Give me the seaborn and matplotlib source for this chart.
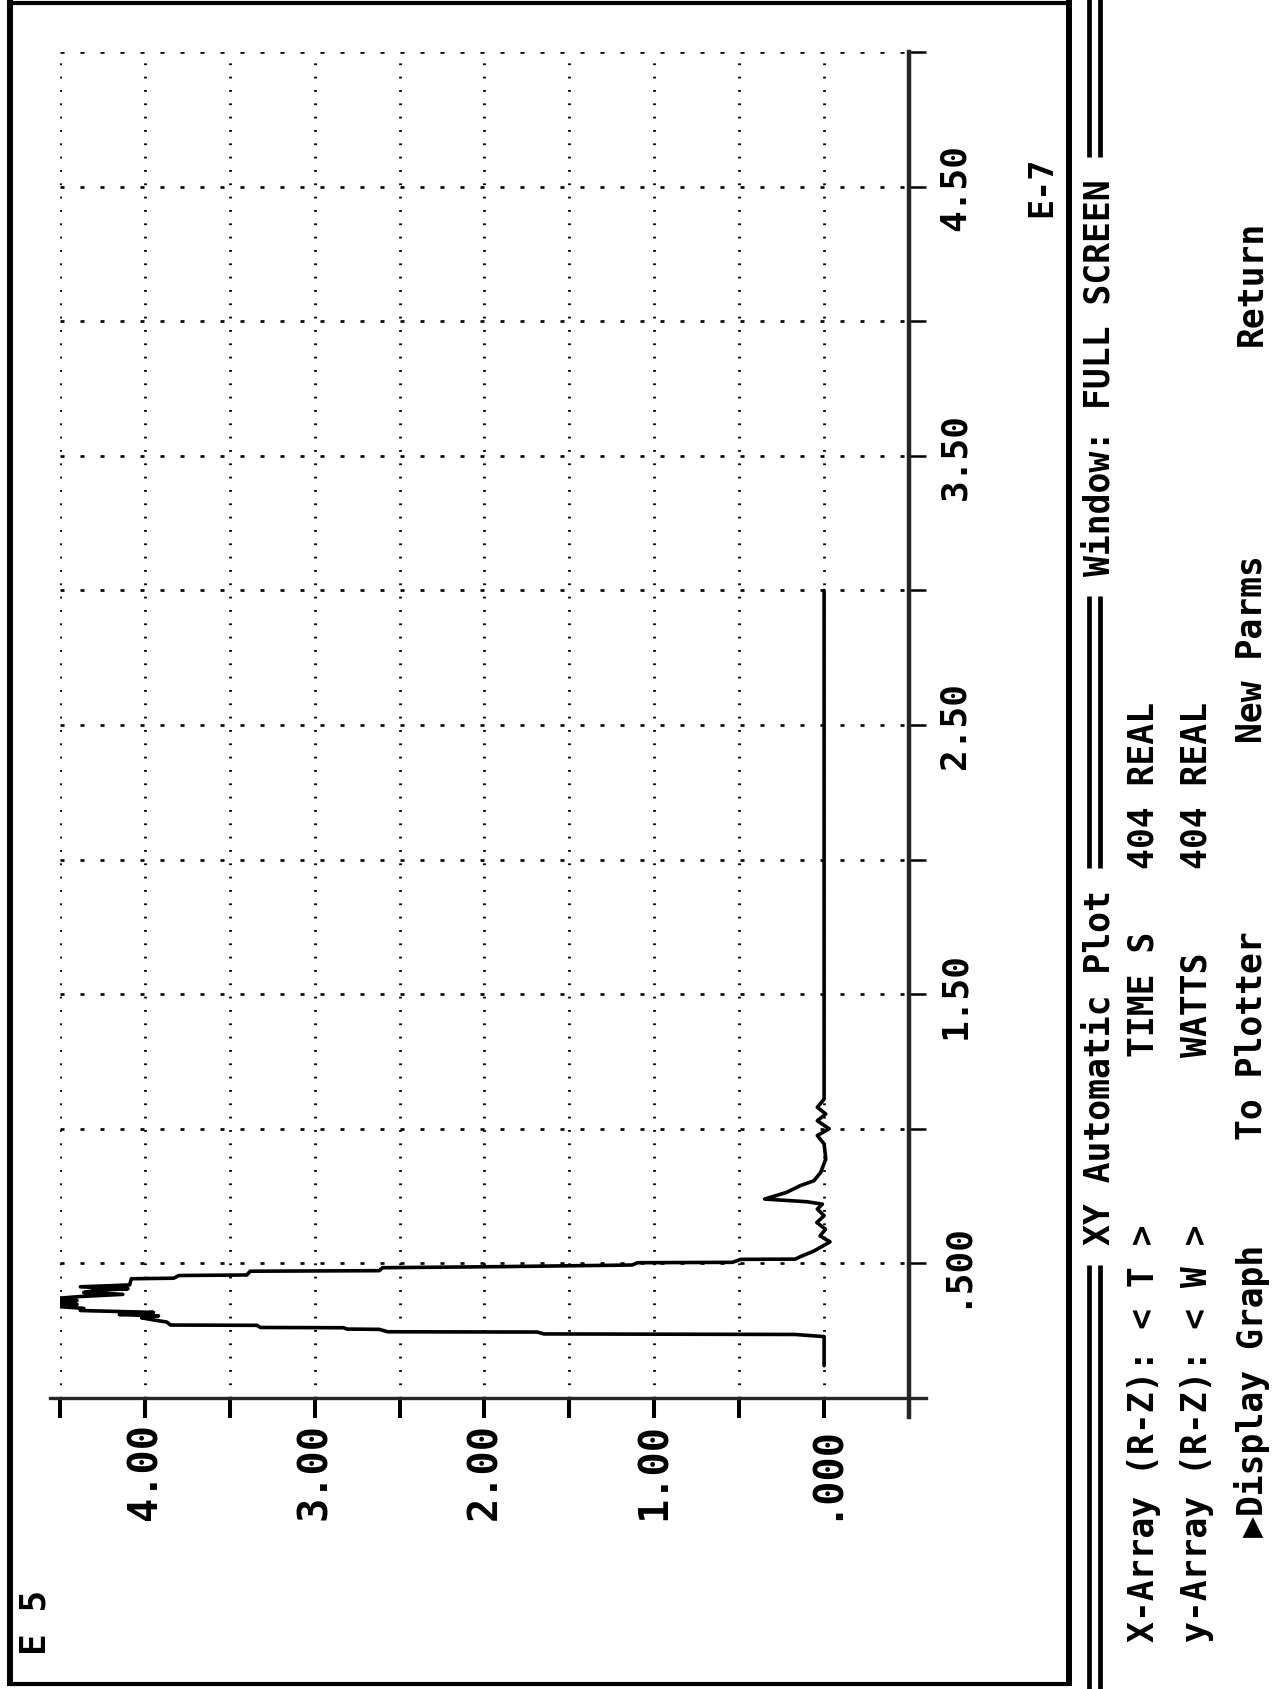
import numpy as np
import pandas as pd
import matplotlib
matplotlib.use("Agg")
import matplotlib.pyplot as plt
import seaborn as sns
from matplotlib.lines import Line2D

# DOS "XY Automatic Plot" screen, photographed sideways (rotated 90 deg)
# time in units of E-7 s (runs upward), power in units of E5 W (runs leftward)
time_e7 = [0.12, 0.228, 0.236, 0.238, 0.245, 0.246, 0.255, 0.256, 0.261, 0.262,
           0.270, 0.271, 0.282, 0.290, 0.298, 0.305, 0.310, 0.318, 0.325, 0.333,
           0.341, 0.348, 0.355, 0.362, 0.369, 0.377, 0.385, 0.392, 0.399, 0.406,
           0.413, 0.420, 0.443, 0.445, 0.455, 0.457, 0.471, 0.473, 0.484, 0.488,
           0.4925, 0.494, 0.5025, 0.504, 0.515, 0.516, 0.525, 0.546, 0.580, 0.602,
           0.627, 0.652, 0.677, 0.702, 0.720, 0.729, 0.739, 0.764, 0.789, 0.807,
           0.838, 0.888, 0.944, 0.975, 1.000, 1.030, 1.055, 1.080, 1.110, 1.300,
           3.000]
watts_e5 = [0.00, 0.00, 0.17, 1.65, 1.69, 2.57, 2.62, 2.81, 2.83, 3.32,
            3.34, 3.85, 3.87, 3.95, 4.02, 3.92, 4.15, 3.95, 4.38, 4.36,
            4.54, 4.40, 4.55, 4.40, 4.54, 4.38, 4.13, 4.36, 4.30, 4.10,
            4.38, 4.09, 4.08, 3.83, 3.80, 3.40, 3.38, 2.62, 2.60, 1.90,
            1.32, 1.13, 1.10, 0.54, 0.49, 0.17, 0.14, 0.06, -0.035, 0.024,
            -0.008, 0.043, 0.00, 0.04, 0.01, 0.10, 0.35, 0.22, 0.14, 0.06,
            0.02, -0.01, 0.00, 0.04, -0.03, 0.04, -0.01, 0.04, 0.00, 0.00,
            0.00]

watt_ticks = [4.5, 4.0, 3.5, 3.0, 2.5, 2.0, 1.5, 1.0, 0.5, 0.0, -0.5]
watt_tick_labels = ["", "4.00", "", "3.00", "", "2.00", "", "1.00", "", ".000", ""]
time_ticks = [0.0, 0.5, 1.0, 1.5, 2.0, 2.5, 3.0, 3.5, 4.0, 4.5, 5.0]
time_tick_labels = ["", ".500", "", "1.50", "", "2.50", "", "3.50", "", "4.50", ""]

sns.set_style("white")
plt.rcParams["font.family"] = ["DejaVu Sans Mono", "DejaVu Sans"]
plt.rcParams["lines.scale_dashes"] = False

W, H = 1277, 1690
fig = plt.figure(figsize=(W / 100, H / 100), dpi=100)
ax = fig.add_axes([60 / W, 1 - 1399 / H, 849 / W, 1346 / H])

df = pd.DataFrame({"time": time_e7, "watts": watts_e5})
sns.lineplot(data=df, x="watts", y="time", sort=False, estimator=None,
             color="black", lw=2.6, ax=ax)

ax.set_xlim(4.5, -0.5)
ax.set_ylim(0, 5.0)
ax.set_xlabel("")
ax.set_ylabel("")

# only the two axis lines, slightly overshooting each other
ax.spines["top"].set_visible(False)
ax.spines["left"].set_visible(False)
ax.spines["bottom"].set_linewidth(2.4)
ax.spines["right"].set_linewidth(3.2)
ax.spines["bottom"].set_bounds(4.56, -0.6)
ax.spines["right"].set_bounds(-0.07, 5.0)

ax.yaxis.tick_right()
ax.set_xticks(watt_ticks, watt_tick_labels)
ax.set_yticks(time_ticks, time_tick_labels)
ax.tick_params(axis="x", bottom=True, direction="out", length=14.4, width=2.9,
               pad=3, labelsize=29, labelrotation=90, colors="black")
ax.tick_params(axis="y", right=True, left=False, direction="out", length=12.2,
               width=1.8, pad=8.6, labelsize=26, labelrotation=90, colors="black")
for lab in ax.get_xticklabels():
    lab.set_fontweight("bold")
for lab in ax.get_yticklabels():
    lab.set_fontweight("bold")
    lab.set_va("center")

# dotted screen grid
ax.xaxis.grid(True, color="black", lw=2.0, linestyle=(0, (1.3, 8.3)))
ax.yaxis.grid(True, color="black", lw=1.9, linestyle=(0, (2.9, 11.5)))
ax.set_axisbelow(True)


def put(x, y, s, size, va="bottom"):
    # rotated screen text; x is the centre of the capitals, y the start (pixels)
    em = size * 100 / 72
    fig.text((x + 0.105 * em) / W, 1 - y / H, s, rotation=90, fontsize=size,
             fontweight="bold", ha="center", va=va, color="black")


def col(c):
    return 1642 - c * 20.9


# exponent labels
put(1038, 187, "E-7", 24, va="center")
put(32, 1655, "E 5", 26)

# menu rows of the DOS screen
put(1096, col(19), "XY Automatic Plot", 25)
put(1096, col(51), "Window: FULL SCREEN", 25)

put(1140, col(0), "X-Array (R-Z): < T >", 25)
put(1140, col(28), "TIME S", 25)
put(1140, col(37), "404 REAL", 25)

put(1193, col(0), "y-Array (R-Z): < W >", 25)
put(1193, col(28), "WATTS", 25)
put(1193, col(37), "404 REAL", 25)

put(1248, col(5), "\u25b6Display Graph", 25)
put(1248, col(24), "To Plotter", 25)
put(1248, col(43), "New Parms", 25)
put(1248, col(62), "Return", 25)


def seg(x0, y0, x1, y1, lw):
    fig.add_artist(Line2D([x0 / W, x1 / W], [1 - y0 / H, 1 - y1 / H],
                          color="black", lw=lw, solid_capstyle="butt"))


# screen window frame
seg(10, 0, 10, 1687, 4.3)
seg(7, 4, 1072, 4, 3.0)
seg(7, 1685, 1069, 1685, 3.0)
seg(1069, 0, 1069, 1687, 4.3)

# double rule of the title row
for xd in (1089, 1100):
    seg(xd, 1690, xd, col(18), 3.4)
    seg(xd, col(37), xd, col(50), 3.4)
    seg(xd, col(71), xd, 0, 3.4)

fig.savefig("out.png", dpi=100, facecolor="white")
